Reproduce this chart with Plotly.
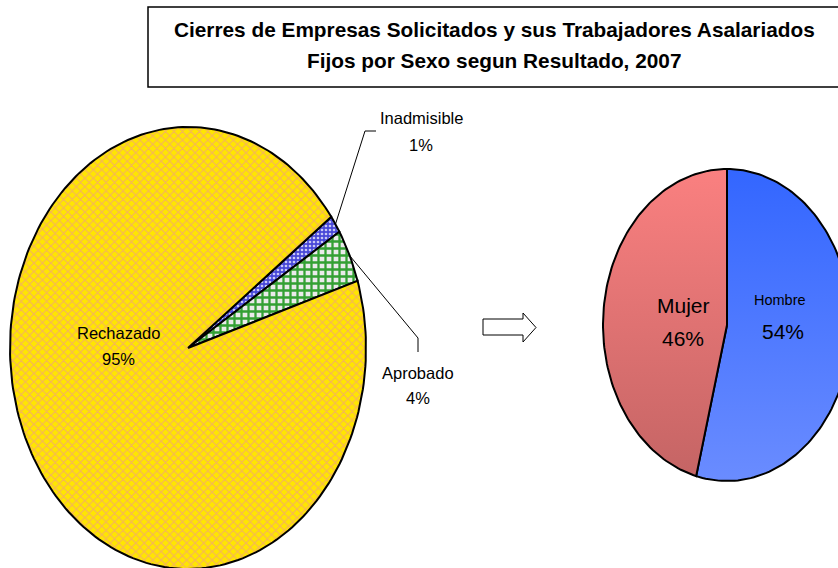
import numpy as np
import plotly.graph_objects as go

# ---- data ----
left_labels = ["Inadmisible", "Aprobado", "Rechazado"]
left_values = [1.3, 3.9, 94.8]
right_labels = ["Hombre", "Mujer"]
right_values = [54, 46]
title_lines = ["Cierres de Empresas Solicitados y sus Trabajadores Asalariados",
               "Fijos por Sexo segun Resultado, 2007"]

W, H = 838, 568
fig = go.Figure()


def slice_path(cx, cy, rx, ry, a0, a1, n=240):
    k = max(2, int(n * (a1 - a0) / 360) + 2)
    th = np.radians(np.linspace(a0, a1, k))
    xs = [cx] + list(cx + rx * np.sin(th)) + [cx]
    ys = [cy] + list(cy - ry * np.cos(th)) + [cy]
    return xs, ys


def slices(values, start):
    tot = float(sum(values))
    out = []
    a = start
    for v in values:
        span = 360.0 * v / tot
        out.append((a, a + span))
        a += span
    return out


# ---- left pie (elliptical) ----
Lcx, Lcy, Lrx, Lry = 188, 348, 178, 221
left_styles = {
    "Inadmisible": dict(shape=".", bgcolor="#4848D8", fgcolor="#C8C8F4", size=4, solidity=0.35),
    "Aprobado": dict(shape="+", bgcolor="#EAEAEA", fgcolor="#33A033", size=7, solidity=0.55),
    "Rechazado": dict(shape="x", bgcolor="#FFE600", fgcolor="#F5B45A", size=6, solidity=0.35),
}
left_ang = slices(left_values, 53.6)
for lab, val, (a0, a1) in zip(left_labels, left_values, left_ang):
    xs, ys = slice_path(Lcx, Lcy, Lrx, Lry, a0, a1)
    st = left_styles[lab]
    fig.add_trace(go.Scatter(
        x=xs, y=ys, mode="lines", fill="toself",
        fillcolor=st["bgcolor"],
        fillpattern=dict(shape=st["shape"], bgcolor=st["bgcolor"], fgcolor=st["fgcolor"],
                         size=st["size"], solidity=st["solidity"], fillmode="replace"),
        line=dict(color="black", width=2), hoverinfo="skip", showlegend=False))

# ---- right pie (elliptical, gradient) ----
Rcx, Rcy, Rrx, Rry = 727, 325, 124, 156
right_colors = {"Hombre": ("#3366FF", "#6A8CFF"), "Mujer": ("#FA8080", "#C46464")}
right_ang = slices(right_values, 0)
for lab, val, (a0, a1) in zip(right_labels, right_values, right_ang):
    xs, ys = slice_path(Rcx, Rcy, Rrx, Rry, a0, a1)
    c0, c1 = right_colors[lab]
    fig.add_trace(go.Scatter(
        x=xs, y=ys, mode="lines", fill="toself",
        fillgradient=dict(type="vertical", colorscale=[[0, c0], [1, c1]],
                          start=Rcy - Rry, stop=Rcy + Rry),
        line=dict(color="black", width=2), hoverinfo="skip", showlegend=False))

# ---- leader lines (from slice mid-angles) ----
def edge_pt(cx, cy, rx, ry, ang):
    t = np.radians(ang)
    return cx + rx * np.sin(t), cy - ry * np.cos(t)

mid_in = sum(left_ang[0]) / 2
mid_ap = sum(left_ang[1]) / 2
p_in = edge_pt(Lcx, Lcy, Lrx, Lry, mid_in)
p_ap = edge_pt(Lcx, Lcy, Lrx, Lry, mid_ap)
fig.add_trace(go.Scatter(x=[p_in[0], 365, 376], y=[p_in[1], 131, 131], mode="lines",
                         line=dict(color="black", width=1), hoverinfo="skip", showlegend=False))
fig.add_trace(go.Scatter(x=[p_ap[0], 418, 418], y=[p_ap[1], 338, 352], mode="lines",
                         line=dict(color="black", width=1), hoverinfo="skip", showlegend=False))

# ---- labels ----
def pct(vals, i):
    return f"{round(100 * vals[i] / sum(vals)):.0f}%"

FONT = "Liberation Sans, Arial, sans-serif"
def txt(x, y, s, size, bold=False):
    fig.add_annotation(x=x, y=y, xref="x", yref="y", text=(f"<b>{s}</b>" if bold else s),
                       showarrow=False, xanchor="center", yanchor="middle",
                       font=dict(family=FONT, size=size, color="black"))

txt(118, 333, left_labels[2], 16.5); txt(118, 359, pct(left_values, 2), 16.5)
txt(421, 118, left_labels[0], 16.5); txt(421, 145, pct(left_values, 0), 16.5)
txt(418, 373, left_labels[1], 16.5); txt(418, 398, pct(left_values, 1), 16.5)
txt(683, 305, right_labels[1], 21); txt(683, 338, pct(right_values, 1), 21)
txt(780, 300, right_labels[0], 14.5); txt(783, 331, pct(right_values, 0), 21)

txt(494, 29, title_lines[0], 20.8, bold=True)
txt(494, 60, title_lines[1], 20.8, bold=True)

# ---- title box & arrow ----
fig.add_shape(type="rect", xref="x", yref="y", x0=148, y0=7, x1=842, y1=87,
              line=dict(color="black", width=1.5), fillcolor="rgba(0,0,0,0)", layer="below")
fig.add_shape(type="path", xref="x", yref="y",
              path="M483,319 L523,319 L523,313 L536,327.5 L523,342 L523,335 L483,335 Z",
              line=dict(color="black", width=1), fillcolor="white")

fig.update_xaxes(range=[0, W], visible=False, fixedrange=True)
fig.update_yaxes(range=[H, 0], visible=False, fixedrange=True)
fig.update_layout(width=W, height=H, autosize=False,
                  margin=dict(l=0, r=0, t=0, b=0),
                  paper_bgcolor="white", plot_bgcolor="white", showlegend=False)

fig.write_html(
    "out.html",
    config={"displayModeBar": False},
    post_script="document.body.style.margin='0';"
                "document.documentElement.style.overflow='hidden';"
                "document.body.style.overflow='hidden';",
)
